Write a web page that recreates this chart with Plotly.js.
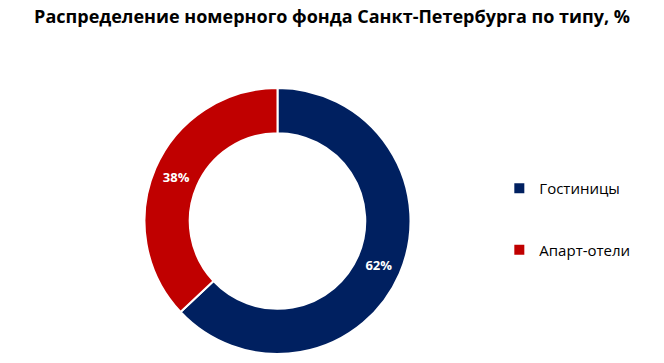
<!DOCTYPE html>
<html>
<head>
<meta charset="utf-8">
<script src="https://cdn.plot.ly/plotly-3.0.1.min.js"></script>
<style>html,body{margin:0;padding:0;background:#fff;}#chart{width:664px;height:363px;}</style>
</head>
<body>
<div id="chart"></div>
<script>
const categories = ['Гостиницы', 'Апарт-отели'];
const shares = [63, 37];            // slice sizes as drawn
const shareLabels = ['62%', '38%']; // labels as printed on the chart
const colors = ['#002060', '#C00000'];
const chartTitle = 'Распределение номерного фонда Санкт-Петербурга по типу, %';

// extra blank lines after the first legend entry to reproduce the wide legend spacing
const legendLabels = categories.map((c, i) => i === 0 ? c + '<br>\u00a0<br>\u00a0' : c);

const W = 664, H = 363;
const cx = 277.5, cy = 221, R = 133;

const data = [{
  type: 'pie',
  labels: legendLabels,
  values: shares,
  text: shareLabels,
  sort: false,
  direction: 'clockwise',
  rotation: 0,
  hole: 0.66,
  marker: {colors: colors, line: {color: '#ffffff', width: 2}},
  texttemplate: '%{text}',
  textposition: 'inside',
  insidetextorientation: 'horizontal',
  textfont: {family: 'Open Sans, sans-serif', size: 13, color: '#ffffff', weight: 'bold'},
  hoverinfo: 'skip',
  domain: {x: [(cx - R) / W, (cx + R) / W], y: [(H - cy - R) / H, (H - cy + R) / H]}
}];

const layout = {
  width: W, height: H,
  margin: {l: 0, r: 0, t: 0, b: 0},
  paper_bgcolor: '#ffffff',
  title: {
    text: chartTitle,
    font: {family: 'Open Sans, sans-serif', size: 18, color: '#000000', weight: 'bold'},
    x: 0.5, xanchor: 'center', y: 1 - 17 / H, yanchor: 'middle'
  },
  showlegend: true,
  legend: {
    x: 0.752, xanchor: 'left', y: 0.526, yanchor: 'top',
    valign: 'top',
    font: {family: 'Open Sans, sans-serif', size: 15, color: '#000000'},
    bgcolor: 'rgba(0,0,0,0)'
  }
};

Plotly.newPlot('chart', data, layout, {displayModeBar: false, staticPlot: true});
</script>
</body>
</html>
